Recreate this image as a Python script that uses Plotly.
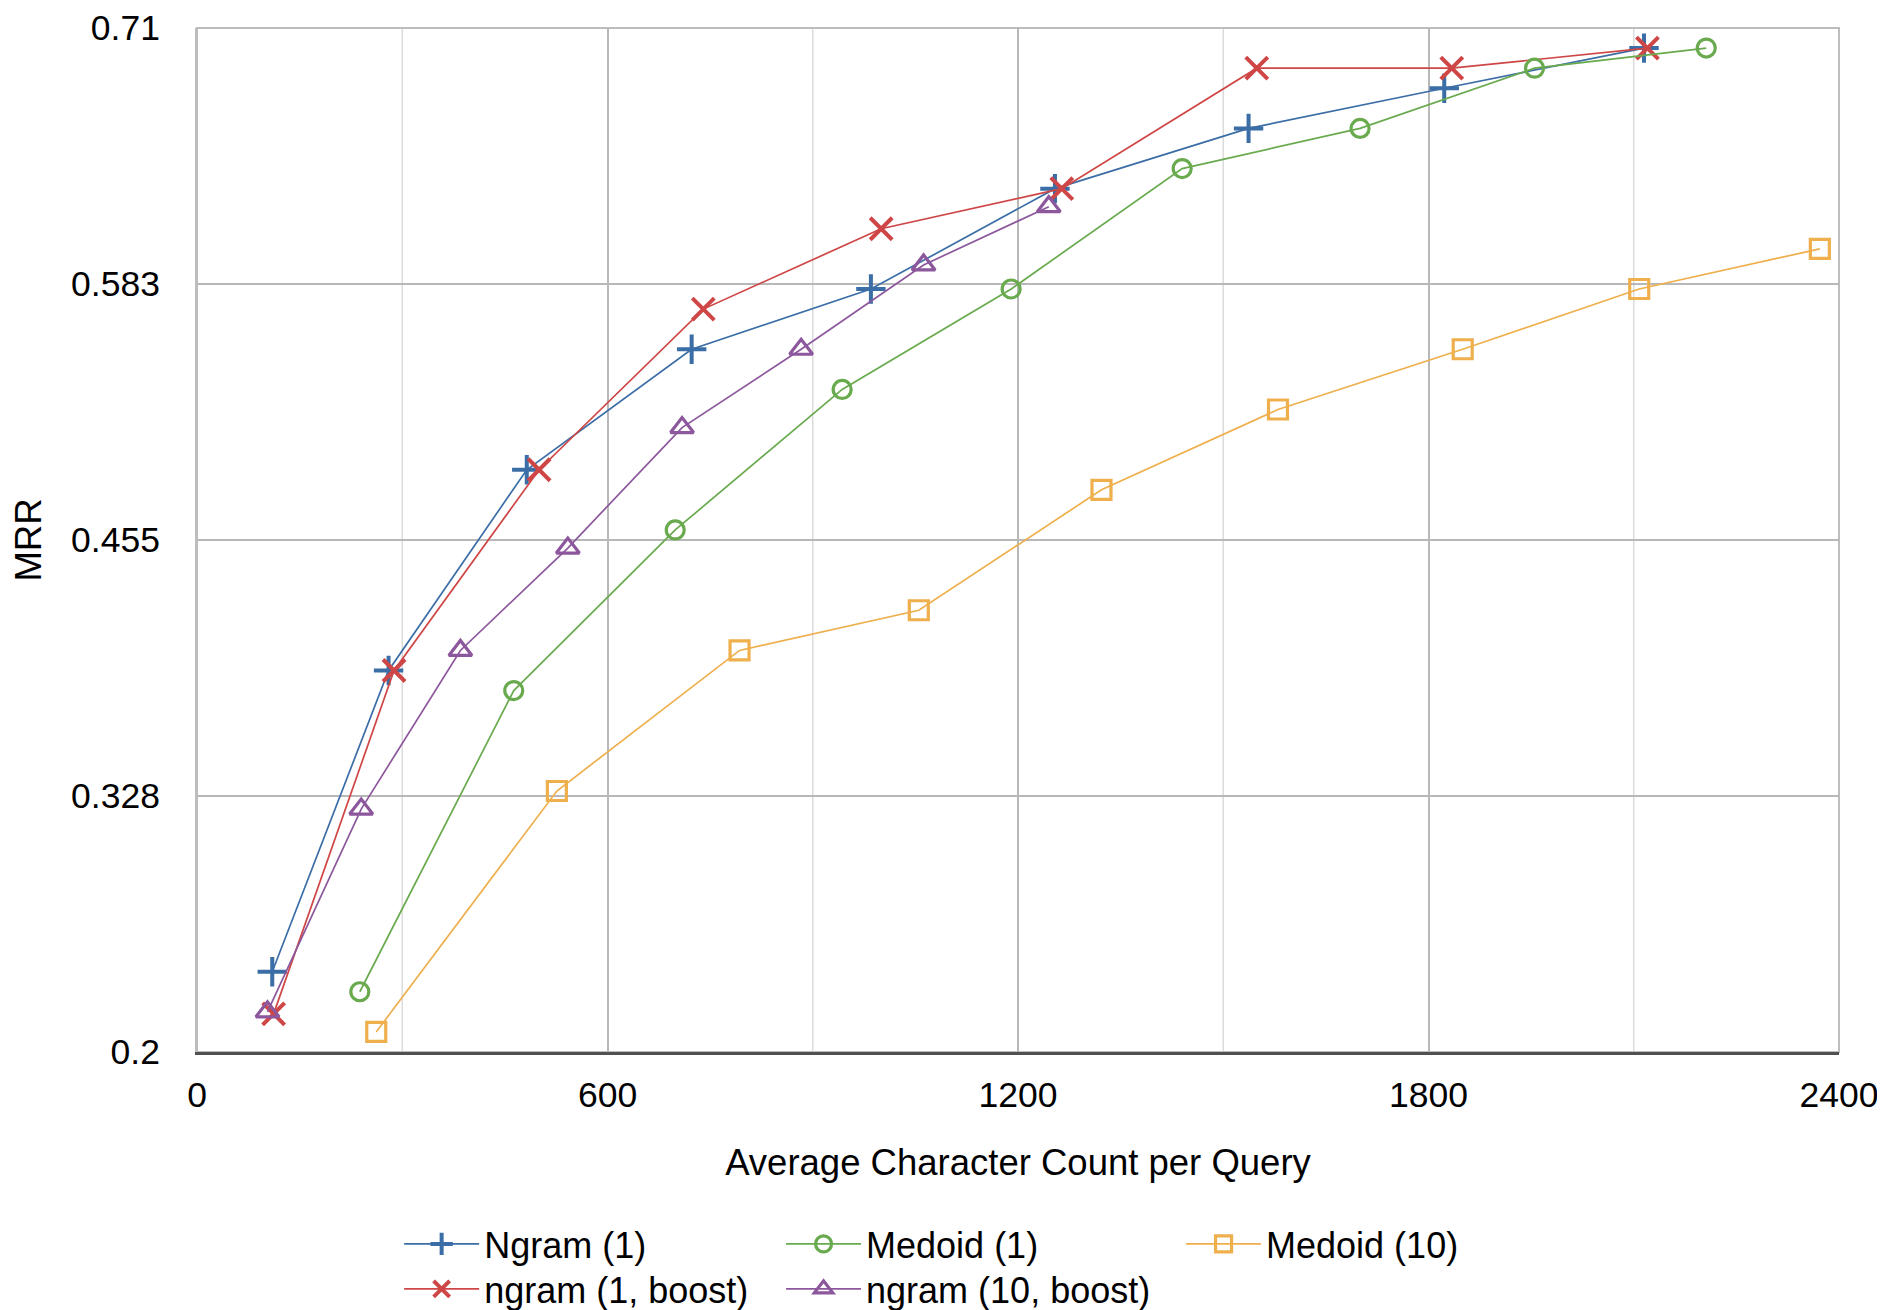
import plotly.graph_objects as go

# ---- data ----
ngram1_x = [110, 280, 482, 723, 985, 1254, 1537, 1823, 2115]
ngram1_y = [0.240, 0.390, 0.490, 0.550, 0.580, 0.630, 0.660, 0.680, 0.700]

ngram1b_x = [112, 288, 500, 740, 1000, 1264, 1549, 1834, 2120]
ngram1b_y = [0.219, 0.390, 0.490, 0.570, 0.610, 0.630, 0.690, 0.690, 0.700]

medoid1_x = [238, 463, 699, 943, 1190, 1440, 1700, 1955, 2206]
medoid1_y = [0.230, 0.380, 0.460, 0.530, 0.580, 0.640, 0.660, 0.690, 0.700]

ngram10b_x = [103, 240, 385, 542, 709, 883, 1062, 1245]
ngram10b_y = [0.220, 0.321, 0.400, 0.451, 0.511, 0.550, 0.592, 0.621]

medoid10_x = [262, 526, 793, 1055, 1322, 1580, 1850, 2108, 2372]
medoid10_y = [0.210, 0.330, 0.400, 0.420, 0.480, 0.520, 0.550, 0.580, 0.600]

x_ticks = [0, 600, 1200, 1800, 2400]
y_ticks = [0.2, 0.3275, 0.455, 0.5825, 0.71]
y_tick_text = ["0.2", "0.328", "0.455", "0.583", "0.71"]
minor_x = [300, 900, 1500, 2100]

FONT = "Liberation Sans, Arial, Helvetica, sans-serif"
FS_TICK = 35.5
FS_TITLE = 36.5
FS_LEG = 36

# name, x, y, colour, symbol, size, marker line width, legend id
series = [
    ("Ngram (1)", ngram1_x, ngram1_y, "#3B6DA6", "cross-thin-open", 21, 4, "legend"),
    ("ngram (1, boost)", ngram1b_x, ngram1b_y, "#CF4646", "x-thin-open", 22, 4, "legend2"),
    ("Medoid (1)", medoid1_x, medoid1_y, "#69AA4E", "circle-open", 18, 3.2, "legend3"),
    ("ngram (10, boost)", ngram10b_x, ngram10b_y, "#8C579C", "triangle-up-open", 20, 3.2, "legend4"),
    ("Medoid (10)", medoid10_x, medoid10_y, "#EEAF4C", "square-open", 19, 3.2, "legend5"),
]

fig = go.Figure()
for name, xs, ys, col, sym, sz, lw, lg in series:
    fig.add_trace(go.Scatter(
        x=xs, y=ys, name=name, mode="lines+markers",
        line=dict(color=col, width=1.7),
        marker=dict(symbol=sym, size=sz, color=col, line=dict(color=col, width=lw)),
        cliponaxis=False, legend=lg,
    ))

# light minor vertical grid lines
for mx in minor_x:
    fig.add_shape(type="line", xref="x", yref="paper", x0=mx, x1=mx, y0=0, y1=1,
                  line=dict(color="#DCDCDC", width=1.5), layer="below")
# plot border
fig.add_shape(type="rect", xref="paper", yref="paper", x0=0, x1=1, y0=0, y1=1,
              line=dict(color="#BDBDBD", width=2), layer="below")


def leg(x, y):
    return dict(
        orientation="v", xref="paper", yref="paper",
        x=x, y=y, xanchor="left", yanchor="middle",
        bgcolor="rgba(0,0,0,0)", itemwidth=75,
        font=dict(family=FONT, size=FS_LEG, color="#000"),
    )


COLS = [0.1231, 0.3557, 0.5993]
ROWS = [-0.1875, -0.2314]

fig.update_layout(
    width=1885, height=1330,
    margin=dict(l=189, r=54, t=20, b=286),
    paper_bgcolor="white", plot_bgcolor="white",
    font=dict(family=FONT, size=FS_TICK, color="#000"),
    showlegend=True,
    legend=leg(COLS[0], ROWS[0]),
    legend2=leg(COLS[0], ROWS[1]),
    legend3=leg(COLS[1], ROWS[0]),
    legend4=leg(COLS[1], ROWS[1]),
    legend5=leg(COLS[2], ROWS[0]),
    xaxis=dict(
        range=[0, 2400], tickvals=x_ticks, ticktext=[str(v) for v in x_ticks],
        showgrid=True, gridcolor="#B8B8B8", gridwidth=1.5,
        showline=True, linecolor="#505050", linewidth=2.5,
        ticks="outside", ticklen=0, ticklabelstandoff=10, zeroline=False,
        automargin=False,
        tickfont=dict(family=FONT, size=FS_TICK, color="#000"),
        title=dict(text="Average Character Count per Query", standoff=36,
                   font=dict(family=FONT, size=FS_TITLE, color="#000")),
    ),
    yaxis=dict(
        range=[0.2, 0.71], tickvals=y_ticks, ticktext=y_tick_text,
        showgrid=True, gridcolor="#B8B8B8", gridwidth=1.5,
        showline=True, linecolor="#BDBDBD", linewidth=2,
        ticks="outside", ticklen=0, ticklabelstandoff=28, zeroline=False,
        automargin=False,
        tickfont=dict(family=FONT, size=FS_TICK, color="#000"),
        title=dict(text="MRR", standoff=22,
                   font=dict(family=FONT, size=FS_TITLE, color="#000")),
    ),
)

fig.write_html("out.html")
